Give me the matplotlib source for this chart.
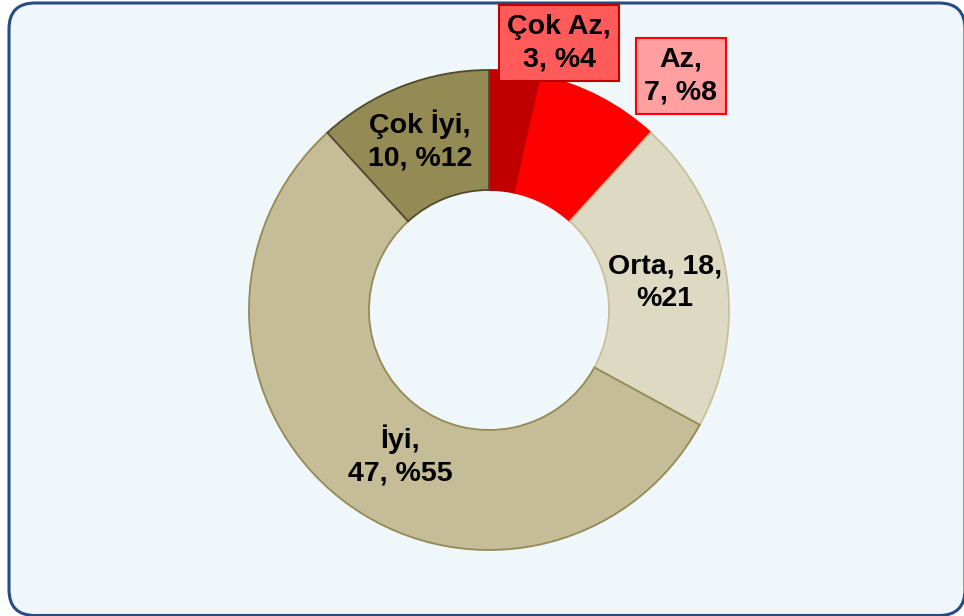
import matplotlib
matplotlib.use("Agg")
import matplotlib.pyplot as plt
from matplotlib.patches import FancyBboxPatch

categories = ["Çok Az", "Az", "Orta", "İyi", "Çok İyi"]
values = [3, 7, 18, 47, 10]
percents = [4, 8, 21, 55, 12]
colors = ["#C00000", "#FF0000", "#DDD9C3", "#C4BD97", "#948A54"]
edge_colors = ["#C00000", "#FF0000", "#C9C09A", "#948A54", "#4F4A2B"]

W, H = 964, 616
fig = plt.figure(figsize=(W / 100, H / 100), dpi=100)
fig.patch.set_facecolor("white")
ax = fig.add_axes([0, 0, 1, 1])
ax.set_axis_off()

# frame (right and bottom edges run slightly past the image)
frame = FancyBboxPatch((9, 0.5), 956, 612.5, boxstyle="round,pad=0,rounding_size=26",
                       facecolor="#EFF7FA", edgecolor="#254C84", linewidth=2.2,
                       zorder=0, clip_on=False)
ax.add_patch(frame)

cx, cy = 489, H - 310
R = 240
wedges, _ = ax.pie(values, colors=colors, startangle=90, counterclock=False,
                   center=(cx, cy), radius=R,
                   wedgeprops=dict(width=R / 2, linewidth=1.3))
for w, ec in zip(wedges, edge_colors):
    w.set_edgecolor(ec)
    w.set_zorder(2)

ax.set_xlim(0, W)
ax.set_ylim(0, H)
ax.set_aspect("equal")

font = dict(family=["Liberation Sans", "DejaVu Sans"], fontsize=20.5,
            fontweight="bold", color="black", ha="center", va="center",
            linespacing=1.32, zorder=5)

labels = [
    f"{categories[0]},\n{values[0]}, %{percents[0]}",
    f"{categories[1]},\n{values[1]}, %{percents[1]}",
    f"{categories[2]}, {values[2]},\n%{percents[2]}",
    f"{categories[3]},\n{values[3]}, %{percents[3]}",
    f"{categories[4]},\n{values[4]}, %{percents[4]}",
]
positions = [(559, 43), (681, 76), (665, 283), (400, 455), (420, 140)]
boxes = [
    dict(boxstyle="square,pad=0.3", facecolor="#FF5B5B", edgecolor="#C00000", linewidth=1.5),
    dict(boxstyle="square,pad=0.3", facecolor="#FF9F9F", edgecolor="#FF0000", linewidth=1.5),
    None, None, None,
]
for lab, (x, y), bb in zip(labels, positions, boxes):
    ax.text(x, H - y, lab, bbox=bb, **font)

fig.savefig("out.png", dpi=100, facecolor="white")
